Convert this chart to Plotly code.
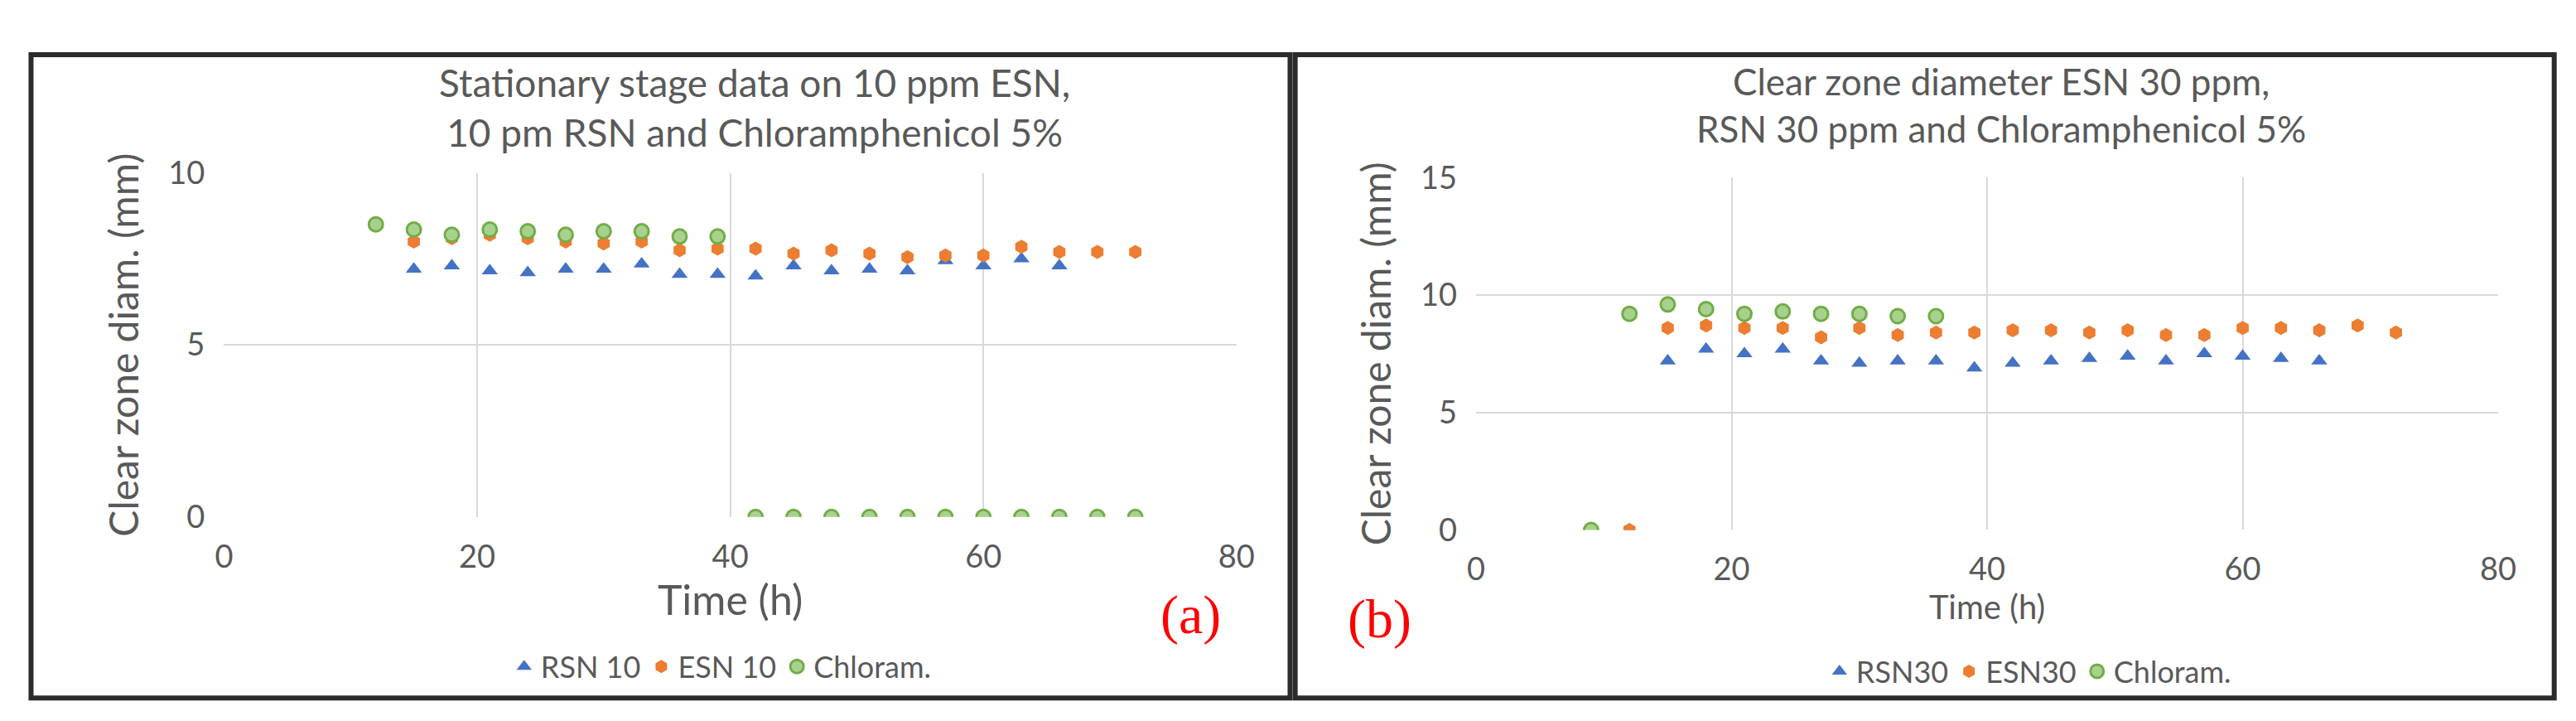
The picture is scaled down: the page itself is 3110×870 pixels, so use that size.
import plotly.graph_objects as go

# Panel (a)
rsn10_x = [15,18,21,24,27,30,33,36,39,42,45,48,51,54,57,60,63,66]
rsn10_y = [7.2,7.3,7.15,7.1,7.2,7.2,7.35,7.05,7.05,7.0,7.3,7.15,7.2,7.15,7.45,7.3,7.5,7.3]
esn10_x = [15,18,21,24,27,30,33,36,39,42,45,48,51,54,57,60,63,66,69,72]
esn10_y = [8.0,8.1,8.2,8.1,8.0,7.95,8.0,7.75,7.8,7.8,7.65,7.75,7.65,7.55,7.6,7.6,7.85,7.7,7.7,7.7]
chl_a_x = [12,15,18,21,24,27,30,33,36,39,42,45,48,51,54,57,60,63,66,69,72]
chl_a_y = [8.5,8.35,8.2,8.35,8.3,8.2,8.3,8.3,8.15,8.15,0,0,0,0,0,0,0,0,0,0,0]

# Panel (b)
rsn30_x = [12,15,18,21,24,27,30,33,36,39,42,45,48,51,54,57,60,63,66]
rsn30_y = [0,7.2,7.7,7.5,7.7,7.2,7.1,7.2,7.2,6.9,7.1,7.2,7.3,7.4,7.2,7.5,7.4,7.3,7.2]
esn30_x = [12,15,18,21,24,27,30,33,36,39,42,45,48,51,54,57,60,63,66,69,72]
esn30_y = [0,8.6,8.7,8.6,8.6,8.2,8.6,8.3,8.4,8.4,8.5,8.5,8.4,8.5,8.3,8.3,8.6,8.6,8.5,8.7,8.4]
chl_b_x = [9,12,15,18,21,24,27,30,33,36]
chl_b_y = [0,9.2,9.6,9.4,9.2,9.3,9.2,9.2,9.1,9.1]

BLUE, ORANGE, GREEN = "#4472C4", "#ED7D31", "#70AD47"
GRAY = "#595959"
FONT = "Lato"

fig = go.Figure()
def add(x, y, name, color, sym, xa, ya, leg):
    fig.add_trace(go.Scatter(x=x, y=y, mode="markers", name=name, xaxis=xa, yaxis=ya, legend=leg,
        marker=dict(color=color if sym != "circle" else "#A9D18E", symbol=sym, size=17,
                    line=dict(color=color, width=3 if sym == "circle" else 0))))

add(rsn10_x, rsn10_y, "RSN 10", BLUE, "triangle-up", "x", "y", "legend")
add(esn10_x, esn10_y, "ESN 10", ORANGE, "hexagon", "x", "y", "legend")
add(chl_a_x, chl_a_y, "Chloram.", GREEN, "circle", "x", "y", "legend")
add(rsn30_x, rsn30_y, "RSN30", BLUE, "triangle-up", "x2", "y2", "legend2")
add(esn30_x, esn30_y, "ESN30", ORANGE, "hexagon", "x2", "y2", "legend2")
add(chl_b_x, chl_b_y, "Chloram.", GREEN, "circle", "x2", "y2", "legend2")

ax = dict(showgrid=True, gridcolor="#D9D9D9", gridwidth=2, zeroline=False, showline=False,
          tickfont=dict(family=FONT, size=38, color=GRAY), ticks="", range=[0, 80], dtick=20,
          ticklabelstandoff=22)
fig.update_layout(
    width=3110, height=870, margin=dict(l=0, r=0, t=0, b=0),
    paper_bgcolor="white", plot_bgcolor="white", font=dict(family=FONT, color=GRAY),
    xaxis=dict(ax, domain=[0.0817, 0.479], anchor="y",
               title=dict(text="Time (h)", font=dict(size=50, color=GRAY), standoff=4)),
    yaxis=dict(ax, domain=[0.283, 0.787], anchor="x", range=[0, 10], dtick=5,
               title=dict(text="Clear zone diam. (mm)", font=dict(size=48, color=GRAY), standoff=20)),
    xaxis2=dict(ax, domain=[0.573, 0.974], anchor="y2",
                title=dict(text="Time (h)", font=dict(size=40, color=GRAY), standoff=10)),
    yaxis2=dict(ax, domain=[0.264, 0.78], anchor="x2", range=[0, 15], dtick=5,
                title=dict(text="Clear zone diam. (mm)", font=dict(size=48, color=GRAY), standoff=20)),
    legend=dict(orientation="h", x=0.277, y=0.064, xanchor="center", yanchor="middle",
                font=dict(size=36, color=GRAY), bgcolor="rgba(0,0,0,0)"),
    legend2=dict(orientation="h", x=0.79, y=0.057, xanchor="center", yanchor="middle",
                 font=dict(size=36, color=GRAY), bgcolor="rgba(0,0,0,0)"),
    showlegend=True,
)
fig.add_annotation(text="Stationary stage data on 10 ppm ESN,<br>10 pm RSN and Chloramphenicol 5%",
                   xref="paper", yref="paper", x=0.29, y=0.955, xanchor="center", yanchor="top",
                   showarrow=False, font=dict(size=46, color=GRAY, family=FONT))
fig.add_annotation(text="Clear zone diameter ESN 30 ppm,<br>RSN 30 ppm and Chloramphenicol 5%",
                   xref="paper", yref="paper", x=0.779, y=0.955, xanchor="center", yanchor="top",
                   showarrow=False, font=dict(size=44, color=GRAY, family=FONT))
fig.add_annotation(text="(a)", xref="paper", yref="paper", x=0.461, y=0.092, showarrow=False,
                   font=dict(size=66, color="#FF0000", family="Liberation Serif"))
fig.add_annotation(text="(b)", xref="paper", yref="paper", x=0.535, y=0.086, showarrow=False,
                   font=dict(size=66, color="#FF0000", family="Liberation Serif"))
for x0, x1 in [(0.006, 0.5), (0.502, 0.996)]:
    fig.add_shape(type="rect", xref="paper", yref="paper", x0=x0, x1=x1, y0=0.018, y1=0.96,
                  line=dict(color="#2b2b2b", width=6))
fig.write_html("out.html")
